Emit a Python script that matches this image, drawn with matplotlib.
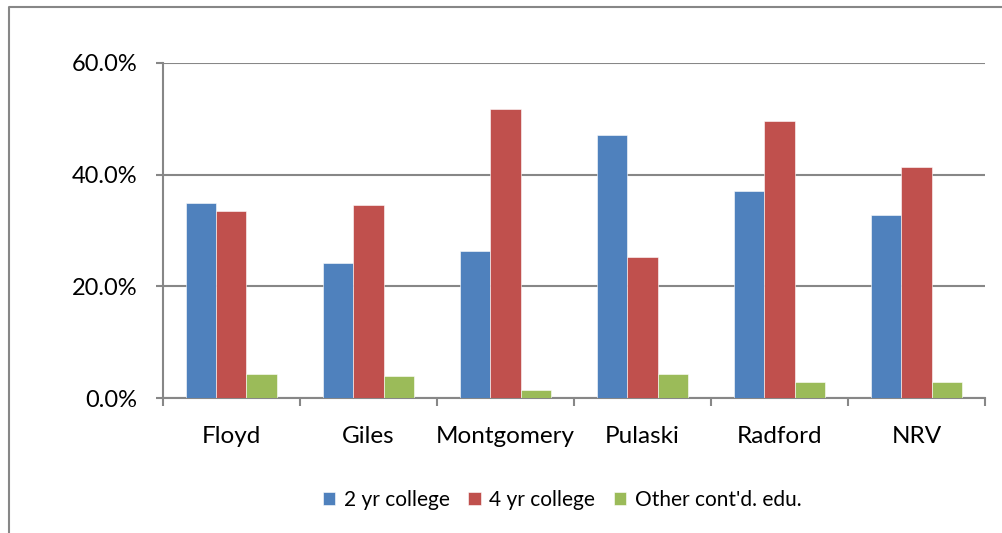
import numpy as np
import matplotlib
matplotlib.use('Agg')
import matplotlib.pyplot as plt
from matplotlib.lines import Line2D
from matplotlib.ticker import FuncFormatter, FixedLocator

plt.rcParams['font.family'] = ['Lato', 'DejaVu Sans']

places = ['Floyd', 'Giles', 'Montgomery', 'Pulaski', 'Radford', 'NRV']
two_yr = [34.9, 24.2, 26.3, 47.0, 37.0, 32.8]
four_yr = [33.4, 34.5, 51.7, 25.3, 49.5, 41.3]
other = [4.3, 3.9, 1.4, 4.3, 2.9, 2.9]
series_names = ['2 yr college', '4 yr college', "Other cont'd. edu."]
colors = ['#4F81BD', '#C0504D', '#9BBB59']

gray = '#878787'

fig = plt.figure(figsize=(10.02, 5.33), dpi=100)
ax = fig.add_axes([0.1624, 0.2527, 0.8206, 0.6297])

x = np.arange(len(places))
w = 1 / 4.5
for i, (vals, name, c) in enumerate(zip([two_yr, four_yr, other], series_names, colors)):
    ax.bar(x + (i - 1) * w, vals, w, color=c, label=name, edgecolor='white',
           linewidth=0.4, zorder=3)

ax.set_xlim(-0.5, len(places) - 0.5)
ax.set_ylim(0, 60)
ax.set_yticks([0, 20, 40, 60])
ax.yaxis.set_major_formatter(FuncFormatter(lambda v, p: '%.1f%%' % v))
ax.yaxis.grid(True, color=gray, linewidth=1.5, zorder=0)

ax.set_xticks(x)
ax.set_xticklabels(places)
ax.xaxis.set_minor_locator(FixedLocator(np.arange(-0.5, len(places), 1)))
ax.tick_params(axis='x', which='major', length=0, pad=20, labelsize=17.5)
ax.tick_params(axis='x', which='minor', length=6, width=1.5, color=gray, direction='out')
ax.tick_params(axis='y', length=5, width=1.5, color=gray, pad=13, labelsize=17)

for s in ['top', 'right']:
    ax.spines[s].set_visible(False)
for s in ['left', 'bottom']:
    ax.spines[s].set_color(gray)
    ax.spines[s].set_linewidth(1.5)

ax.legend(loc='center', bbox_to_anchor=(0.561, 0.062), bbox_transform=fig.transFigure,
          ncol=3, frameon=False, fontsize=15, handlelength=0.6, handleheight=0.6,
          handletextpad=0.4, columnspacing=0.9)

# outer chart border (cropped on right and bottom)
fig.add_artist(Line2D([8.5 / 1002, 8.5 / 1002, 1.0], [0.0, 1 - 6.5 / 533, 1 - 6.5 / 533],
                      transform=fig.transFigure, color=gray, linewidth=1.5))

fig.savefig('out.png', dpi=100)
